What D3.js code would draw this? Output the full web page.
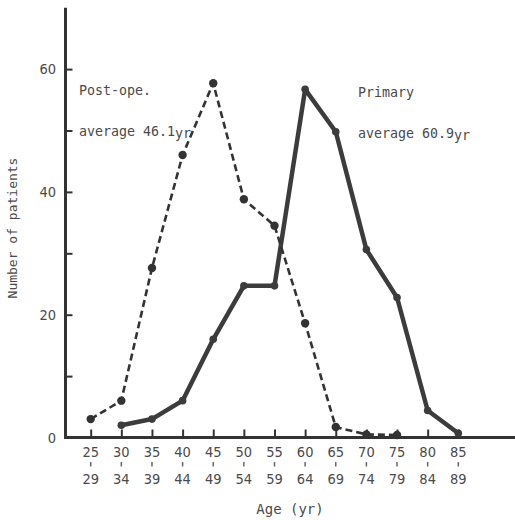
<!DOCTYPE html>
<html><head><meta charset="utf-8">
<script src="https://cdn.jsdelivr.net/npm/d3@7"></script>
<style>
html,body{margin:0;padding:0;background:#fff;}
text{font-family:"DejaVu Sans Mono",monospace;fill:#4a4a4a;}
.num{font-family:"DejaVu Sans Condensed","DejaVu Sans",sans-serif;}
</style></head>
<body>
<svg id="chart" width="515" height="520"></svg>
<script>
const ageLower = ["25","30","35","40","45","50","55","60","65","70","75","80","85"];
const ageUpper = ["29","34","39","44","49","54","59","64","69","74","79","84","89"];
const postOpeAges = ["25","30","35","40","45","50","55","60","65","70","75"];
const postOpeValues = [3, 6, 27.6, 46, 57.7, 38.8, 34.5, 18.6, 1.7, 0.5, 0.4];
const primaryAges = ["30","35","40","45","50","55","60","65","70","75","80","85"];
const primaryValues = [2, 3, 6, 16, 24.7, 24.7, 56.7, 49.8, 30.6, 22.8, 4.4, 0.7];
const yTickMajor = [0, 20, 40, 60];
const yTickMinor = [10, 30, 50];

const svg = d3.select("#chart");
const x = d3.scalePoint().domain(ageLower).range([90.7, 458.3]);
const y = d3.scaleLinear().domain([0, 70]).range([437.5, 7.7]);
const ink = "#333";

// axes lines
svg.append("line").attr("x1", 65.5).attr("x2", 515).attr("y1", y(0)).attr("y2", y(0))
  .attr("stroke", ink).attr("stroke-width", 3);
svg.append("line").attr("x1", 65.5).attr("x2", 65.5).attr("y1", y(70)).attr("y2", y(0) + 1.5)
  .attr("stroke", ink).attr("stroke-width", 3);

// y ticks (inside)
const yAxis = d3.axisRight(y).tickValues(yTickMajor.concat(yTickMinor)).tickSize(7).tickFormat("");
const gy = svg.append("g").attr("transform", "translate(65.5,0)").call(yAxis);
gy.select(".domain").remove();
gy.selectAll(".tick line").attr("stroke", ink).attr("stroke-width", 2);
svg.selectAll(".ylab").data(yTickMajor).enter().append("text").attr("class", "num")
  .attr("x", 56).attr("y", d => y(d)).attr("dy", "0.36em")
  .attr("text-anchor", "end").style("font-size", "14.5px").text(d => d);

// x ticks (upward)
const xAxis = d3.axisTop(x).tickSize(8).tickFormat("");
const gx = svg.append("g").attr("transform", `translate(0,${y(0)})`).call(xAxis);
gx.select(".domain").remove();
gx.selectAll(".tick line").attr("stroke", ink).attr("stroke-width", 2);

const labs = svg.append("g");
labs.selectAll(".lo").data(ageLower).enter().append("text").attr("class", "num")
  .attr("x", d => x(d)).attr("y", 457).attr("text-anchor", "middle")
  .style("font-size", "14.5px").text(d => d);
labs.selectAll(".dash").data(ageLower).enter().append("line")
  .attr("x1", d => x(d)).attr("x2", d => x(d)).attr("y1", 462).attr("y2", 466.5)
  .attr("stroke", "#666").attr("stroke-width", 1.5);
labs.selectAll(".hi").data(ageUpper).enter().append("text").attr("class", "num")
  .attr("x", (d, i) => x(ageLower[i])).attr("y", 483.5).attr("text-anchor", "middle")
  .style("font-size", "14.5px").text(d => d);

// axis titles
svg.append("text").attr("x", 290).attr("y", 514).attr("text-anchor", "middle")
  .style("font-size", "14px").text("Age (yr)");
svg.append("text").attr("transform", "translate(17,228) rotate(-90)").attr("text-anchor", "middle")
  .style("font-size", "13px").text("Number of patients");

// lines
const line = d3.line().x(d => x(d[0])).y(d => y(d[1]));
const postData = postOpeAges.map((a, i) => [a, postOpeValues[i]]);
const primData = primaryAges.map((a, i) => [a, primaryValues[i]]);

svg.append("path").datum(primData).attr("d", line).attr("fill", "none")
  .attr("stroke", "#3c3c3c").attr("stroke-width", 4.5).attr("stroke-linejoin", "round");
svg.selectAll(".pm").data(primData).enter().append("circle")
  .attr("cx", d => x(d[0])).attr("cy", d => y(d[1])).attr("r", 3.8).attr("fill", "#3c3c3c");

svg.append("path").datum(postData).attr("d", line).attr("fill", "none")
  .attr("stroke", "#333").attr("stroke-width", 2.6).attr("stroke-dasharray", "7,4");
svg.selectAll(".qm").data(postData).enter().append("circle")
  .attr("cx", d => x(d[0])).attr("cy", d => y(d[1])).attr("r", 4.2).attr("fill", "#333");

// annotations
const ann = svg.append("g").style("font-size", "13.3px");
ann.append("text").attr("x", 79).attr("y", 95).text("Post-ope.");
const t1 = ann.append("text").attr("x", 79).attr("y", 136);
t1.append("tspan").text("average 46.1");
t1.append("tspan").attr("dy", 2).text("yr");
ann.append("text").attr("x", 358).attr("y", 97).text("Primary");
const t2 = ann.append("text").attr("x", 358).attr("y", 138);
t2.append("tspan").text("average 60.9");
t2.append("tspan").attr("dy", 2).text("yr");
</script>
</body></html>
